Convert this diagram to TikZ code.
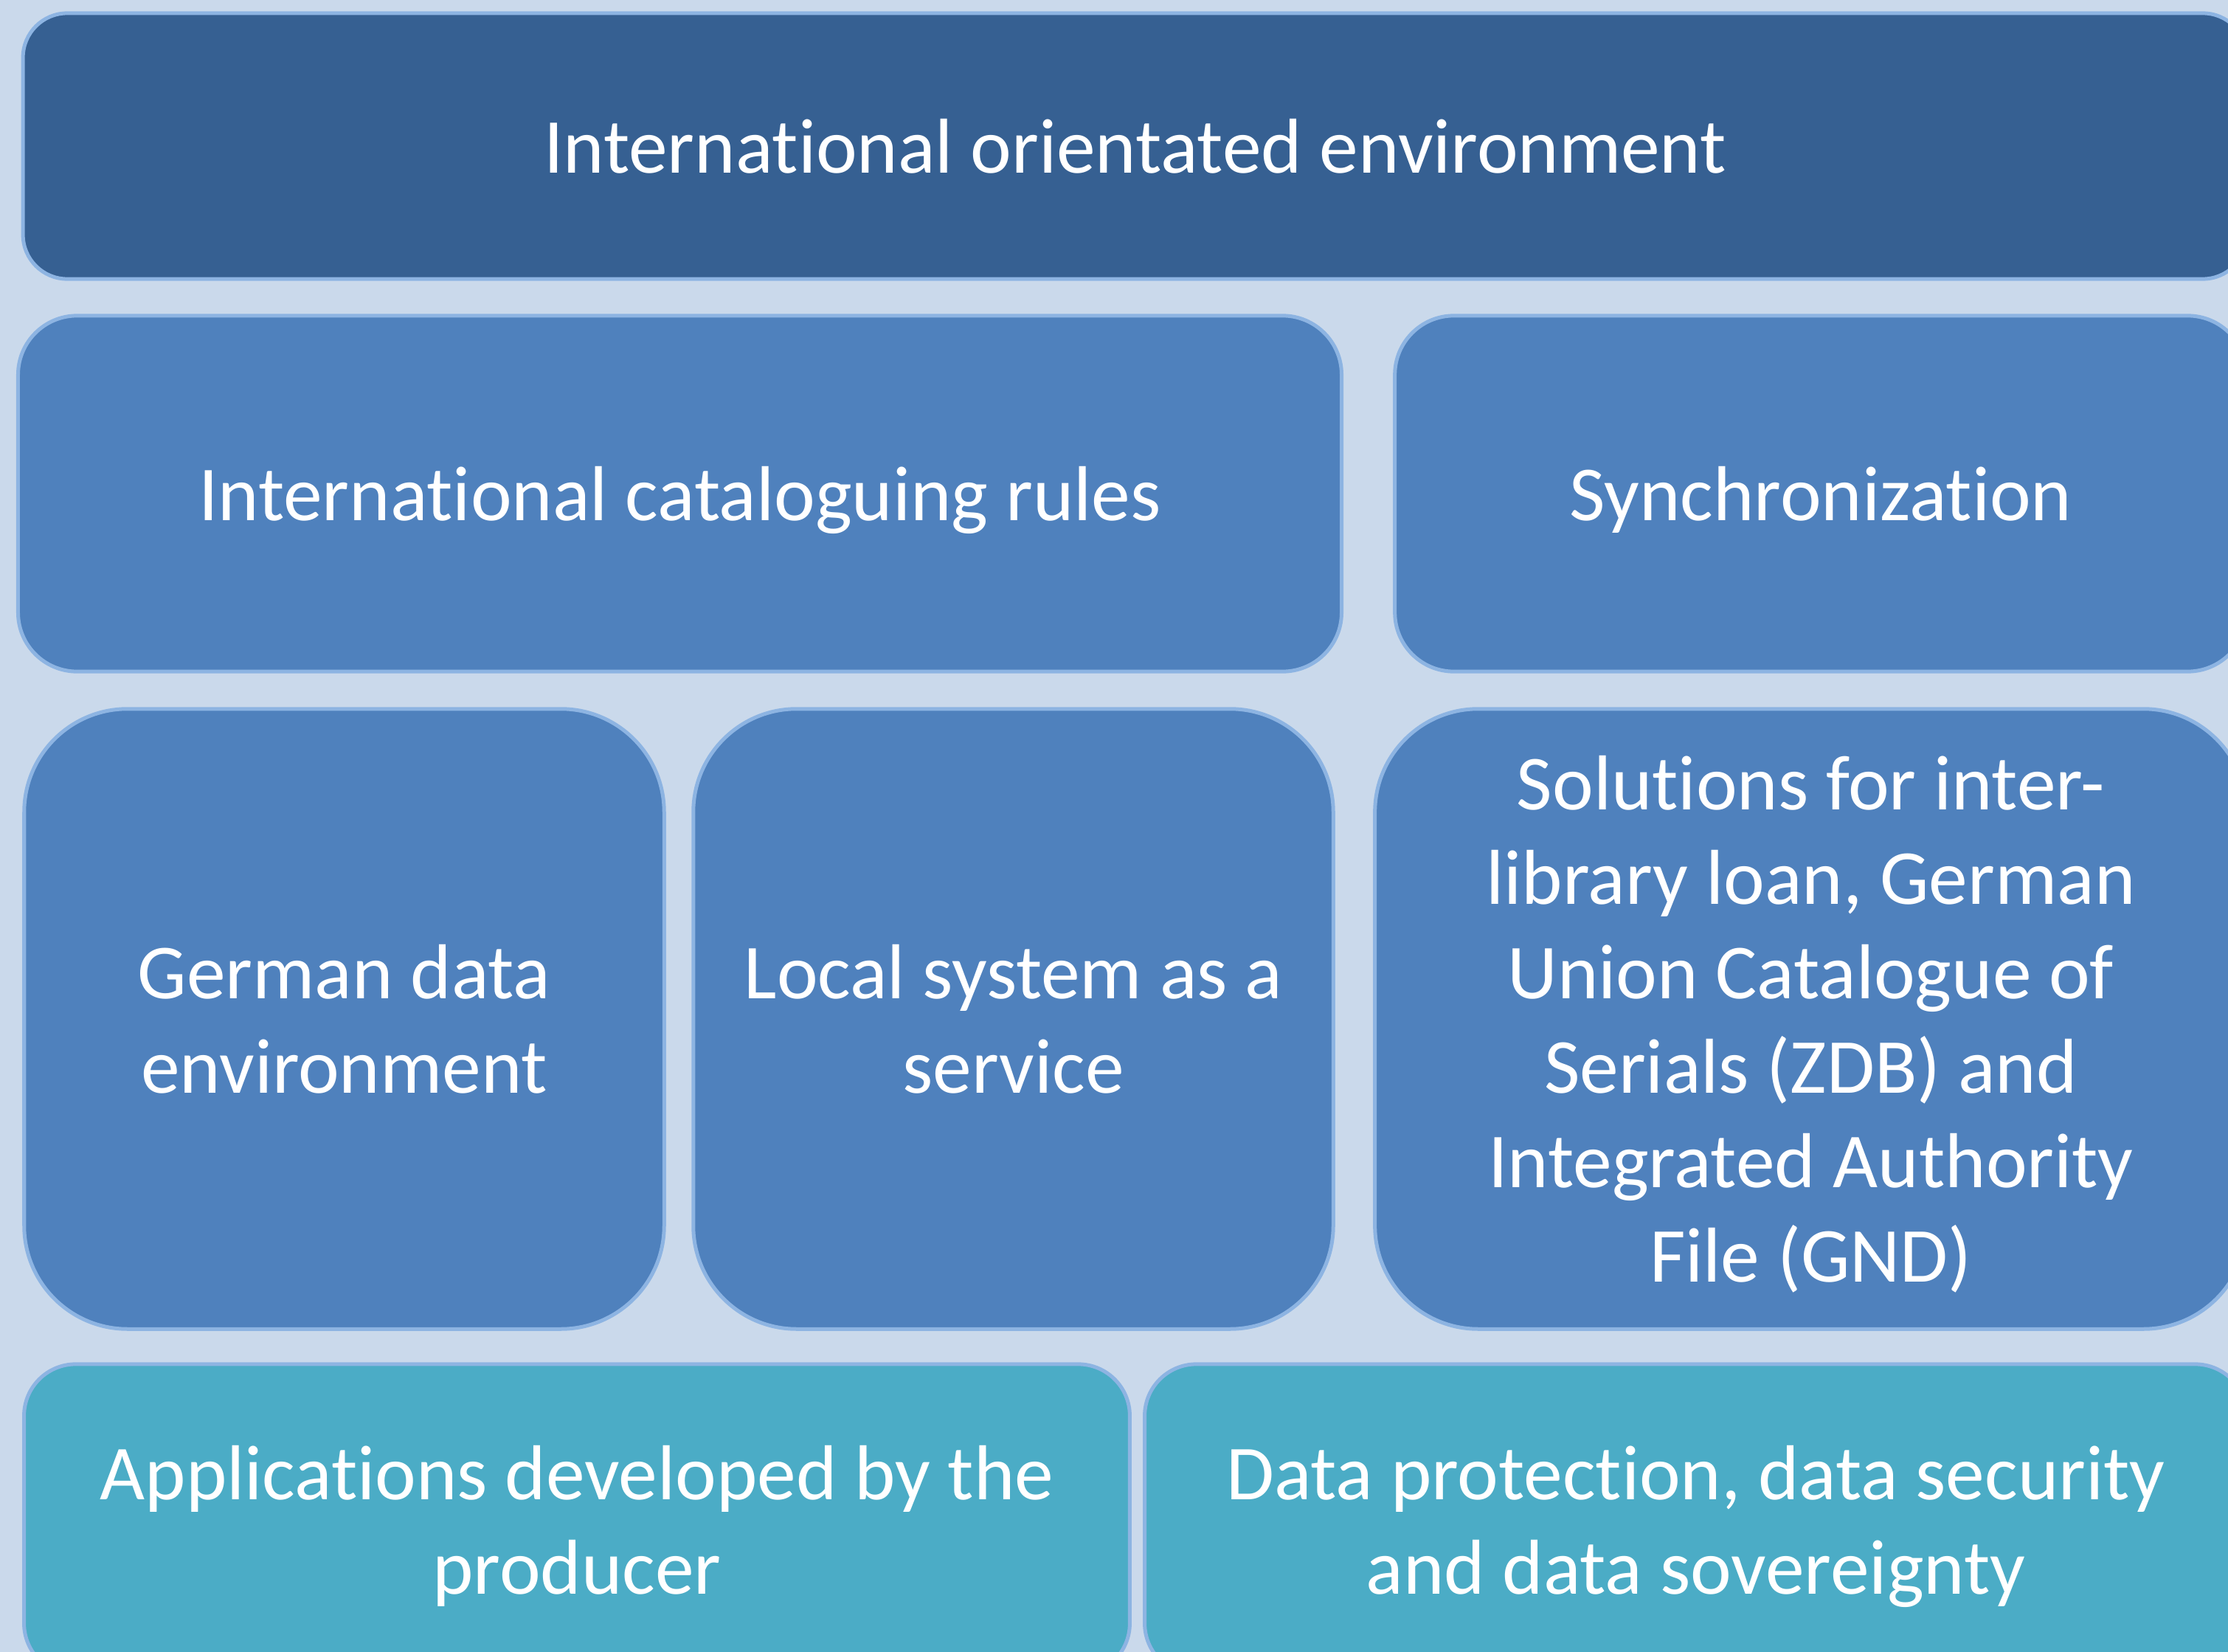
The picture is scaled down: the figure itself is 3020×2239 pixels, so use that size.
\documentclass[tikz,border=0pt]{standalone}
\usepackage{fontspec}
\setmainfont{Carlito}[RawFeature={-liga;-clig;-calt;-dlig}]

\begin{document}
\begin{tikzpicture}[x=0.01cm, y=-0.01cm,
  tile/.style={rectangle, draw=tileedge, line width=0.05cm, text=white,
    align=center, inner sep=0pt, text depth=0pt,
    font=\fontsize{30}{36.4}\selectfont}]

%─────────────
% Colours
%─────────────
\definecolor{pagebg}{HTML}{CAD9EB}    % light background
\definecolor{tileedge}{HTML}{8DB4E2}  % light blue outline
\definecolor{darktile}{HTML}{366092}  % top band
\definecolor{midtile}{HTML}{4F81BD}   % middle rows
\definecolor{lowtile}{HTML}{4BACC6}   % bottom row

%─────────────
% Page (pixel units, y downwards)
%─────────────
\useasboundingbox (0,0) rectangle (3020,2239);
\fill[pagebg] (0,0) rectangle (3020,2239);
\clip (0,0) rectangle (3020,2239);

%─────────────
% Top band
%─────────────
\node[tile, fill=darktile, rounded corners=0.6cm,
  minimum width=30.13cm, minimum height=3.6cm] (intenv) at (1538.5,198)
  {International orientated environment};

%─────────────
% Second row
%─────────────
\node[tile, fill=midtile, rounded corners=0.8cm,
  minimum width=17.93cm, minimum height=4.82cm] (rules) at (921.5,669)
  {International cataloguing rules};
\node[tile, fill=midtile, rounded corners=0.8cm,
  minimum width=11.54cm, minimum height=4.82cm] (sync) at (2468,669)
  {Synchronization};

%─────────────
% Third row
%─────────────
\node[tile, fill=midtile, rounded corners=1.4cm,
  minimum width=8.67cm, minimum height=8.4cm] (german) at (466.5,1381)
  {German data\\environment};
\node[tile, fill=midtile, rounded corners=1.4cm,
  minimum width=8.67cm, minimum height=8.4cm] (local) at (1373.5,1381)
  {Local system as a\\service};
\node[tile, fill=midtile, rounded corners=1.4cm,
  minimum width=11.81cm, minimum height=8.4cm] (loan) at (2454.5,1381)
  {Solutions for inter-\\library loan, German\\Union Catalogue of\\Serials (ZDB) and\\Integrated Authority\\File (GND)};

%─────────────
% Bottom row
%─────────────
\node[tile, fill=lowtile, rounded corners=0.7cm,
  minimum width=14.98cm, minimum height=4.21cm] (apps) at (782,2059.5)
  {Applications developed by the\\producer};
\node[tile, fill=lowtile, rounded corners=0.7cm,
  minimum width=14.93cm, minimum height=4.21cm] (privacy) at (2298.5,2059.5)
  {Data protection, data security\\and data sovereignty};

\end{tikzpicture}
\end{document}
